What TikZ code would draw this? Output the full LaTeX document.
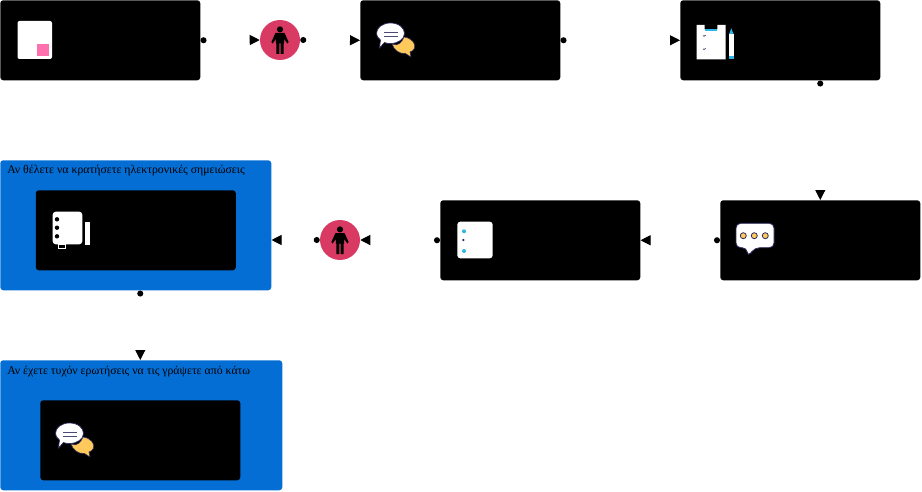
\documentclass[tikz,border=0pt]{standalone}
\usepackage{fontspec}
\setmainfont{Liberation Serif}
\usetikzlibrary{arrows.meta}
\definecolor{panelblue}{HTML}{056ED4}
\definecolor{rose}{HTML}{D93A63}
\definecolor{navy}{HTML}{2B2A5E}
\definecolor{sand}{HTML}{FFC95C}
\definecolor{sky}{HTML}{2DB4E8}
\definecolor{pinkish}{HTML}{FF70AE}
\tikzset{
  x=0.75pt,y=-0.75pt,
  panel/.style={anchor=north west,fill=black,rounded corners=2.25pt,minimum width=150pt,minimum height=60pt,inner sep=0pt},
  bluebox/.style={anchor=north west,fill=panelblue,rounded corners=2.25pt,inner sep=0pt},
  figure/.style={shape=circle,fill=rose,minimum size=30pt,inner sep=0pt},
  caption/.style={anchor=base west,inner sep=0pt,font=\fontsize{8.85pt}{10pt}\selectfont,text=black},
  conn/.style={white,line width=0.75pt,{Circle[color=black,length=4.5pt]}-{Triangle[color=black,length=7.5pt,width=7.5pt]}},
  walker/.pic={
    \fill[black] (0,-10.6) circle[radius=3.1];
    \fill[black] (-4.5,-7) -- (4.5,-7) -- (8.6,2) -- (7.4,3.6) -- (4.2,-1) -- (4.2,3.5) -- (3.7,3.5) -- (3.7,14) -- (0.6,14) -- (0.6,3.5) -- (-0.6,3.5) -- (-0.6,14) -- (-3.7,14) -- (-3.7,3.5) -- (-4.2,3.5) -- (-4.2,-1) -- (-7.4,3.6) -- (-8.6,2) -- cycle;
  },
  chats/.pic={
    \fill[sand,draw=navy,line width=0.4pt] (392,44) .. controls (398,47) and (402,42) .. (404,37) .. controls (412,38) and (416,44) .. (414.5,48) .. controls (414,50) and (412,51.5) .. (410,52) -- (411,57) -- (405.5,53.5) .. controls (399,54) and (394,50) .. (392,44) -- cycle;
    \fill[white,draw=navy,line width=0.5pt] (390.5,23) .. controls (399,23) and (404.5,28) .. (404.5,33.5) .. controls (404.5,39) and (398,43.5) .. (390.5,43.5) .. controls (388,43.5) and (386,43.2) .. (384.5,42.5) -- (379.5,48) -- (380.5,40) .. controls (378,38) and (376.5,36) .. (376.5,33.5) .. controls (376.5,27.5) and (382.5,23) .. (390.5,23) -- cycle;
    \draw[navy!85,line width=0.9pt] (384,32.3) -- (398,32.3) (384,36.7) -- (398,36.7);
  }
}
\begin{document}
\begin{tikzpicture}
\useasboundingbox (0,0) rectangle (922,492);
% boxes
\node[panel] (a) at (0,0) {};
\node[figure] (p1) at (280,40) {};
\node[panel] (b) at (360,0) {};
\node[panel] (c) at (680,0) {};
\node[panel] (d) at (720,200) {};
\node[panel] (e) at (440,200) {};
\node[figure] (p2) at (340,240) {};
\node[bluebox,minimum width=203.25pt,minimum height=97.5pt] (f) at (0,160) {};
\node[panel] (fi) at (35.5,190) {};
\node[bluebox,minimum width=211.5pt,minimum height=97.5pt] (g) at (0,360) {};
\node[panel] (gi) at (40,400) {};
\node[caption] (ft) at (7,174) {Αν θέλετε να κρατήσετε ηλεκτρονικές σημειώσεις};
\node[caption] (gt) at (7,374) {Αν έχετε τυχόν ερωτήσεις να τις γράψετε από κάτω};
% connectors
\draw[conn] (a.east) -- (p1.west);
\draw[conn] (p1.east) -- (b.west);
\draw[conn] (b.east) -- (c.west);
\draw[conn] (c.south -| d.north) -- (d.north);
\draw[conn] (d.west) -- (e.east);
\draw[conn] (e.west) -- (p2.east);
\draw[conn] (p2.west) -- (f.east |- p2.west);
\draw[conn] ([xshift=-0.75pt]g.north |- f.south) -- ([xshift=-0.75pt]g.north);
% people
\pic at (p1) {walker};
\pic at (p2) {walker};
% icon a
\fill[white,rounded corners=1.5pt] (17.5,21) rectangle (52,59);
\fill[pinkish] (37,44) rectangle (49,56);
% chat icons
\pic at (0,0) {chats};
\pic at (-321,400) {chats};
% clipboard
\fill[white] (696.7,25) -- (704.7,25) -- (704.7,29.5) -- (717.3,29.5) -- (717.3,25) -- (725.7,25) -- (725.7,59.3) -- (696.7,59.3) -- cycle;
\fill[sky] (704.7,29.3) rectangle (717.3,30.6);
\draw[navy,line width=0.5pt] (703,35.7) -- (704,36.2) -- (705.6,35.2) (703,49) -- (704,49.5) -- (705.6,48.5);
\fill[sky] (731.3,28.3) -- (733.7,34.5) -- (729,34.5) -- cycle;
\fill[white] (729,34.5) rectangle (733.7,56);
\fill[sky] (729,56) rectangle (733.7,59.3);
% dotted bubble
\fill[white,draw=navy,line width=0.6pt,rounded corners=3.5pt] (736,223.3) -- (774,223.3) -- (774,247.7) -- (755,247.7) -- (747.7,256.7) -- (746.9,247.7) -- (736,247.7) -- cycle;
\foreach \cx in {743.3,754.3,765.3}
  \fill[sand,draw=navy,line width=0.6pt] (\cx,235.7) circle[radius=3];
% list icon
\fill[white,rounded corners=2.25pt] (457.3,221.7) rectangle (492.7,258.3);
\fill[sky] (464,231.3) circle[radius=2];
\fill[navy] (463.3,240) circle[radius=1.2];
\fill[sky] (464,251) circle[radius=2];
% notebook icon
\fill[white,rounded corners=2.25pt] (52.7,211.7) rectangle (82.3,244.3);
\foreach \cy in {219.3,227.7,236.3}
  \fill[black] (57,\cy) circle[radius=2.2];
\draw[white,line width=0.5pt,fill=black] (58.5,244.5) rectangle (65,248);
\fill[white] (85.3,221.7) rectangle (90,245);
\end{tikzpicture}
\end{document}
